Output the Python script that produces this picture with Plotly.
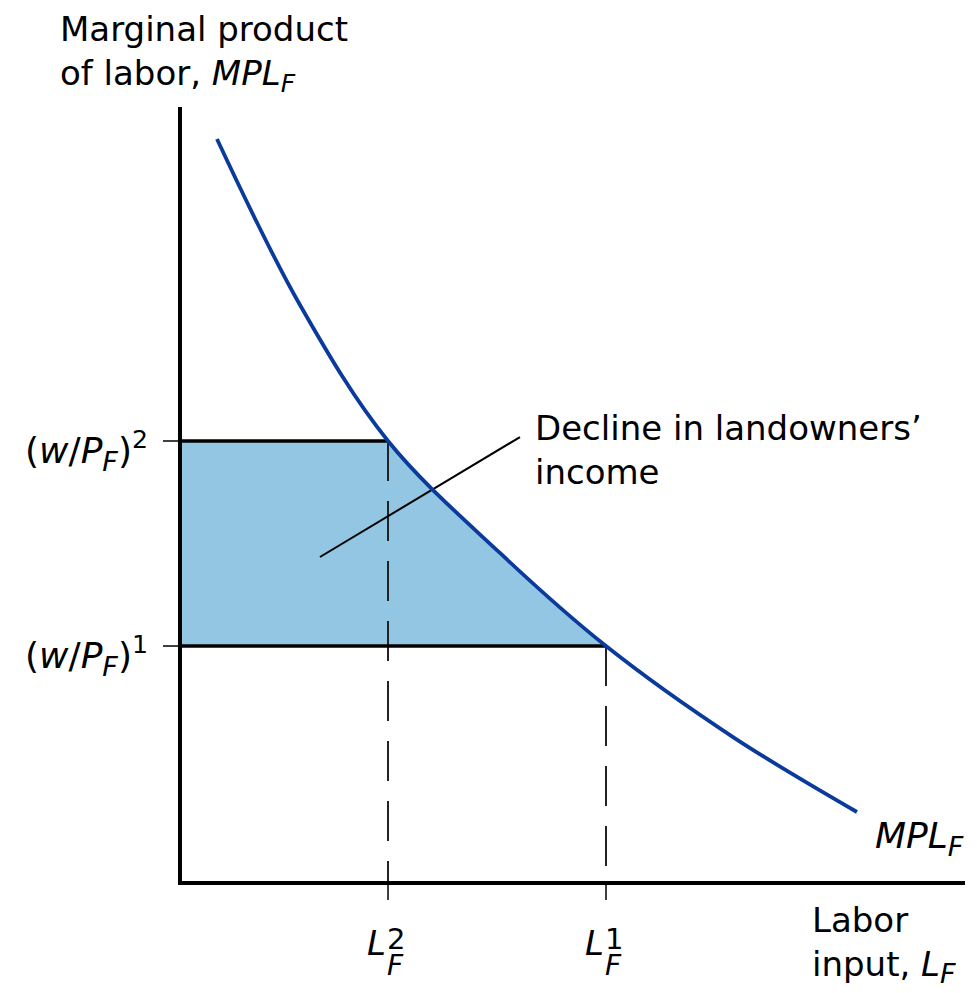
import plotly.graph_objects as go

# MPL curve (abstract units)
labor = [0.471, 1.529, 2.650, 4.076, 5.427, 7.045, 8.624]
mpl = [9.588, 7.448, 5.696, 4.253, 3.054, 1.881, 0.915]

# equilibrium points
wage_levels = [5.696, 3.054]      # (w/P_F)^2, (w/P_F)^1
labor_levels = [2.650, 5.427]     # L_F^2, L_F^1
SUBF = "<sub><span style='font-size:27px'>F</span></sub>"
wage_labels = ["(<i>w</i>/<i>P" + SUBF + "</i>)<sup>2</sup>",
               "(<i>w</i>/<i>P" + SUBF + "</i>)<sup>1</sup>"]
labor_sups = ["2", "1"]

# leader line of the annotation
leader_x = [1.783, 4.331]
leader_y = [4.201, 5.747]

# axes extents
axis_max_x = 10.0
axis_max_y = 10.0
tick_len_x = 0.2166   # length of wage ticks (x units)
tick_len_y = 0.219    # length of labor ticks (y units)

FONT = "DejaVu Sans"
BLUE = "#0a3a9c"
FILL = "#92c6e2"

fig = go.Figure()

# shaded area: left of the MPL curve, then masked outside the two wage levels
fig.add_trace(go.Scatter(x=labor, y=mpl, mode="lines",
                         line=dict(width=0, shape="spline", color=FILL),
                         fill="tozerox", fillcolor=FILL, hoverinfo="skip"))
w_hi, w_lo = max(wage_levels), min(wage_levels)
for y0, y1 in [(w_hi, axis_max_y + 1), (-1, w_lo)]:
    fig.add_trace(go.Scatter(x=[0, axis_max_x, axis_max_x, 0, 0],
                             y=[y0, y0, y1, y1, y0], mode="lines",
                             line=dict(width=0, color="white"),
                             fill="toself", fillcolor="white", hoverinfo="skip"))

# vertical dashed lines
for L, w in zip(labor_levels, wage_levels):
    fig.add_trace(go.Scatter(x=[L, L], y=[w, 0], mode="lines",
                             line=dict(color="#222222", width=2, dash="40px,20px"),
                             hoverinfo="skip"))

# horizontal wage lines
for L, w in zip(labor_levels, wage_levels):
    fig.add_trace(go.Scatter(x=[0, L], y=[w, w], mode="lines",
                             line=dict(color="black", width=3.5),
                             hoverinfo="skip"))

# tick marks
for w in wage_levels:
    fig.add_trace(go.Scatter(x=[-tick_len_x, 0], y=[w, w], mode="lines",
                             line=dict(color="black", width=1.5), hoverinfo="skip"))
for L in labor_levels:
    fig.add_trace(go.Scatter(x=[L, L], y=[-tick_len_y, 0], mode="lines",
                             line=dict(color="black", width=1.5), hoverinfo="skip"))

# leader line
fig.add_trace(go.Scatter(x=leader_x, y=leader_y, mode="lines",
                         line=dict(color="black", width=2), hoverinfo="skip"))

# MPL curve
fig.add_trace(go.Scatter(x=labor, y=mpl, mode="lines",
                         line=dict(color=BLUE, width=3.8, shape="spline"),
                         hoverinfo="skip"))

# axes
fig.add_trace(go.Scatter(x=[0, 0, axis_max_x], y=[axis_max_y, 0, 0], mode="lines",
                         line=dict(color="black", width=4), hoverinfo="skip"))

ann = []
base = dict(showarrow=False, font=dict(family=FONT, size=34, color="black"))

# title of the vertical axis
ann.append(dict(base, x=-1.554, y=10.688, xanchor="left", yanchor="middle",
                align="left",
                text="Marginal product<br>of labor, <i>MPL<sub><span style='font-size:25px'>F</span></sub></i>"))
# horizontal axis title
ann.append(dict(base, x=8.025, y=-0.786, xanchor="left", yanchor="middle",
                align="left", text="Labor<br>input, <i>L" + SUBF + "</i>"))
# curve label
ann.append(dict(base, x=8.83, y=0.577, xanchor="left", yanchor="middle",
                text="<i>MPL" + SUBF + "</i>",
                font=dict(family=FONT, size=36, color="black")))
# annotation text
ann.append(dict(base, x=4.497, y=5.58, xanchor="left", yanchor="middle",
                align="left", text="Decline in landowners\u2019<br>income"))

# wage tick labels
for w, t in zip(wage_levels, wage_labels):
    ann.append(dict(base, x=0, y=w, xanchor="right", yanchor="middle",
                    xshift=-30, yshift=-10, text=t,
                    font=dict(family=FONT, size=36, color="black")))

# labor tick labels
for L, s in zip(labor_levels, labor_sups):
    ann.append(dict(base, x=L, y=-0.773, xanchor="right", yanchor="middle",
                    xshift=0, text="<i>L</i>"))
    ann.append(dict(base, x=L, y=-0.72, xanchor="left", yanchor="middle",
                    xshift=-3, text=s, font=dict(family=FONT, size=29, color="black")))
    ann.append(dict(base, x=L, y=-1.06, xanchor="left", yanchor="middle",
                    xshift=-3, text="<i>F</i>", font=dict(family=FONT, size=28, color="black")))

fig.update_layout(
    width=969, height=985,
    margin=dict(l=0, r=0, t=0, b=0, pad=0),
    paper_bgcolor="white", plot_bgcolor="white",
    showlegend=False,
    annotations=ann,
    xaxis=dict(range=[-2.191, 10.153], showgrid=False, zeroline=False, showline=False,
               ticks="", showticklabels=False, fixedrange=True),
    yaxis=dict(range=[-1.4175, 11.276], showgrid=False, zeroline=False, showline=False,
               ticks="", showticklabels=False, fixedrange=True),
)

fig.write_html("out.html")
